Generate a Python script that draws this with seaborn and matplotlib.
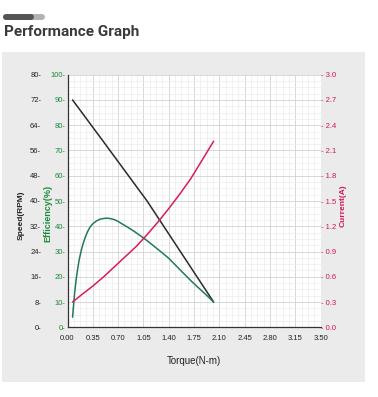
import matplotlib
matplotlib.use('Agg')
import matplotlib.pyplot as plt
from matplotlib.patches import Rectangle
from matplotlib.lines import Line2D
from matplotlib.ticker import MultipleLocator, FuncFormatter
import seaborn as sns

# values
speed_torque = [0.07, 0.50, 1.01, 1.10, 1.56, 2.02]
speed_rpm = [72.0, 58.7, 42.8, 40.0, 24.0, 8.0]

eff_torque = [0.07, 0.08, 0.09, 0.10, 0.12, 0.14, 0.16, 0.19, 0.22, 0.25,
              0.28, 0.31, 0.35, 0.40, 0.45, 0.50, 0.55, 0.60, 0.65, 0.70,
              0.78, 0.85, 0.92, 1.00, 1.10, 1.20, 1.30, 1.40, 1.50, 1.60,
              1.70, 1.80, 1.90, 2.02]
eff_pct = [4.0, 7.5, 10.8, 14.0, 19.0, 23.0, 26.5, 30.5, 33.5, 36.0,
           38.0, 39.6, 41.0, 42.1, 42.8, 43.1, 43.2, 43.0, 42.6, 41.9,
           40.5, 39.3, 38.0, 36.4, 34.3, 32.0, 29.7, 27.3, 24.4, 21.5,
           18.6, 15.9, 13.3, 10.0]

cur_torque = [0.07, 0.20, 0.35, 0.50, 0.65, 0.80, 0.95, 1.10, 1.25, 1.40,
              1.55, 1.70, 1.85, 2.02]
cur_amp = [0.30, 0.39, 0.49, 0.60, 0.72, 0.84, 0.96, 1.10, 1.25, 1.41,
           1.58, 1.76, 1.97, 2.21]

x_ticks = [0.35 * i for i in range(11)]
x_labels = ['%.2f' % v for v in x_ticks]

SPEED_C = '#2b2b2b'
EFF_C = '#217a55'
CUR_C = '#d41c62'
EFF_TXT = '#1c8a3c'
CUR_TXT = '#d4145a'

W, H = 378, 397

sns.set_style('white')
plt.rcParams['font.family'] = ['Liberation Sans', 'DejaVu Sans']


def fx(x):
    return x / W


def fy(y):
    return 1 - y / H


fig = plt.figure(figsize=(W / 100, H / 100), dpi=100)
fig.patch.set_facecolor('white')

# grey panel + small decoration bar
fig.add_artist(Rectangle((fx(2), fy(382)), 363 / W, 330 / H, transform=fig.transFigure,
                         facecolor='#ebebeb', edgecolor='none', zorder=-5))
fig.add_artist(Line2D([fx(6), fx(42)], [fy(17), fy(17)], transform=fig.transFigure,
                      color='#b3b3b3', lw=4.3, solid_capstyle='round'))
fig.add_artist(Line2D([fx(6), fx(31)], [fy(17), fy(17)], transform=fig.transFigure,
                      color='#555555', lw=4.3, solid_capstyle='round'))
fig.text(fx(4), fy(36), 'Performance Graph', fontsize=11, fontweight='bold',
         family=['Roboto', 'DejaVu Sans'], color='#3a3a3a', va='baseline')

left, right, top, bottom = 67.5, 320.7, 74.7, 327.3
ax = fig.add_axes([fx(left), fy(bottom), (right - left) / W, (bottom - top) / H])
ax.set_facecolor('white')

ax.set_xlim(0, 3.5)
ax.set_ylim(0, 80)
ax.set_xticks(x_ticks)
ax.set_xticklabels(x_labels)
ax.xaxis.set_minor_locator(MultipleLocator(0.0875))
ax.yaxis.set_major_locator(MultipleLocator(8))
ax.yaxis.set_minor_locator(MultipleLocator(2))
ax.yaxis.set_major_formatter(FuncFormatter(lambda v, p: '%d-' % round(v)))
ax.grid(which='major', color='#d2d2d2', lw=0.6)
ax.grid(which='minor', color='#ebebeb', lw=0.5)
ax.set_axisbelow(True)
for s in ['top', 'right']:
    ax.spines[s].set_visible(False)
for s in ['left', 'bottom']:
    ax.spines[s].set_color('#333333')
    ax.spines[s].set_linewidth(0.9)
ax.tick_params(axis='y', which='both', length=0, pad=19, labelsize=5.5, labelcolor='#222222')
ax.tick_params(axis='x', which='major', length=2.5, color='#888888', pad=3,
               labelsize=5.5, labelcolor='#222222')
ax.tick_params(axis='x', which='minor', length=0)

ax_eff = ax.twinx()
ax_eff.set_ylim(0, 100)
ax_eff.yaxis.tick_left()
ax_eff.yaxis.set_major_locator(MultipleLocator(10))
ax_eff.yaxis.set_major_formatter(FuncFormatter(lambda v, p: '%d-' % round(v)))
ax_eff.tick_params(axis='y', length=0, pad=1.5, labelsize=5.5, labelcolor=EFF_TXT)
for s in ax_eff.spines.values():
    s.set_visible(False)

ax_cur = ax.twinx()
ax_cur.set_ylim(0, 3.0)
ax_cur.yaxis.set_major_locator(MultipleLocator(0.3))
ax_cur.yaxis.set_major_formatter(FuncFormatter(lambda v, p: '- %.1f' % v))
ax_cur.tick_params(axis='y', length=0, pad=0.5, labelsize=5.5, labelcolor=CUR_TXT)
for s in ax_cur.spines.values():
    s.set_visible(False)

sns.lineplot(x=speed_torque, y=speed_rpm, ax=ax, color=SPEED_C, lw=1.1)
sns.lineplot(x=eff_torque, y=eff_pct, ax=ax_eff, color=EFF_C, lw=1.1)
sns.lineplot(x=cur_torque, y=cur_amp, ax=ax_cur, color=CUR_C, lw=1.1)
for a in (ax, ax_eff, ax_cur):
    a.set_xlabel('')
    a.set_ylabel('')

fig.text(fx(21.5), fy(215), 'Speed(RPM)', rotation=90, ha='center', va='center',
         fontsize=6, fontweight='bold', color='#222222')
fig.text(fx(47.5), fy(213), 'Efficiency(%)', rotation=90, ha='center', va='center',
         fontsize=6.5, fontweight='bold', color=EFF_TXT)
fig.text(fx(343.5), fy(206), 'Current(A)', rotation=90, ha='center', va='center',
         fontsize=6, fontweight='bold', color=CUR_TXT)
fig.text(fx(194), fy(361), 'Torque(N-m)', ha='center', va='center',
         fontsize=7, color='#222222')

fig.savefig('out.png', dpi=100, facecolor='white')
